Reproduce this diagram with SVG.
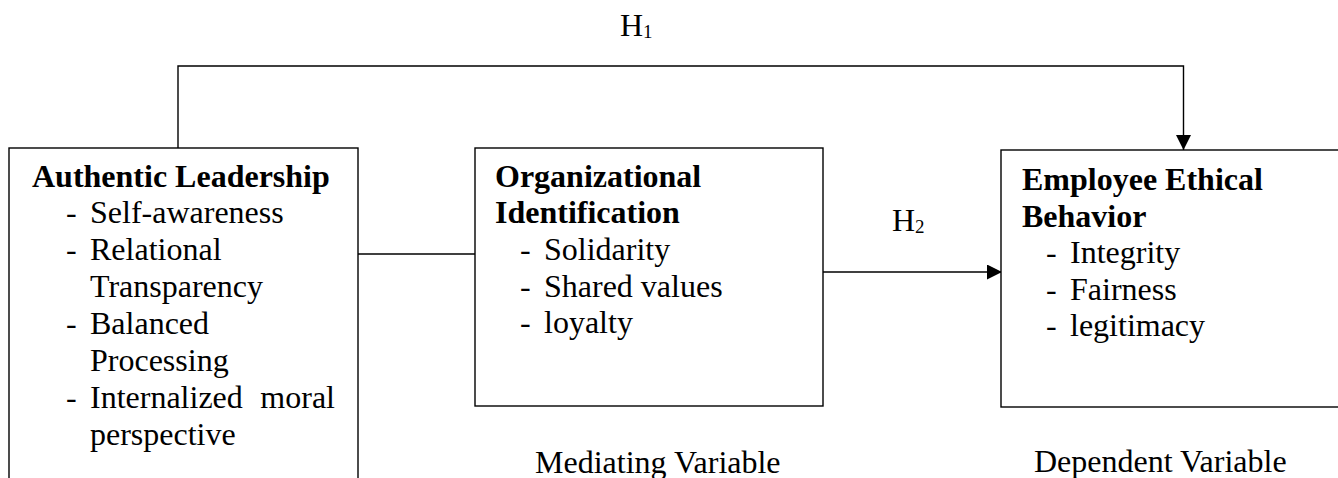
<svg xmlns="http://www.w3.org/2000/svg" width="1338" height="478" viewBox="0 0 1338 478">
<style>
.box{fill:#fff;stroke:#000;stroke-width:1.4}
.ln{fill:none;stroke:#000;stroke-width:1.4}
text{font-family:"Liberation Serif","Times New Roman",serif;font-size:32px;fill:#000}
.b{font-weight:bold}
.sub{font-size:19px}
</style>
<defs>
<marker id="ah" viewBox="0 0 15 15" refX="15" refY="7.5" markerWidth="15" markerHeight="15" markerUnits="userSpaceOnUse" orient="auto">
<path d="M0,0 L15,7.5 L0,15 Z" fill="#000"/>
</marker>
</defs>
<g id="connectors">
<path class="ln" d="M178,148 V66 H1183.5 V150" marker-end="url(#ah)"/>
<path class="ln" d="M358,254 H475"/>
<path class="ln" d="M823,272 H1002" marker-end="url(#ah)"/>
<text x="620" y="36">H<tspan class="sub" dy="2">1</tspan></text>
<text x="892" y="231">H<tspan class="sub" dy="2">2</tspan></text>
</g>
<g id="authentic-leadership">
<rect class="box" x="9" y="148" width="349" height="345"/>
<text class="b" x="32" y="187">Authentic Leadership</text>
<text x="66" y="223">-</text><text x="90" y="223">Self-awareness</text>
<text x="66" y="260">-</text><text x="90" y="260">Relational</text>
<text x="90" y="297">Transparency</text>
<text x="66" y="334">-</text><text x="90" y="334">Balanced</text>
<text x="90" y="371">Processing</text>
<text x="66" y="408">-</text><text x="90" y="408">Internalized</text><text x="335" y="408" text-anchor="end">moral</text>
<text x="90" y="445">perspective</text>
</g>
<g id="organizational-identification">
<rect class="box" x="475" y="148" width="348" height="258"/>
<text class="b" x="495" y="187">Organizational</text>
<text class="b" x="495" y="223">Identification</text>
<text x="520" y="260">-</text><text x="544" y="260">Solidarity</text>
<text x="520" y="297">-</text><text x="544" y="297">Shared values</text>
<text x="520" y="333">-</text><text x="544" y="333">loyalty</text>
<text x="535" y="473">Mediating Variable</text>
</g>
<g id="employee-ethical-behavior">
<rect class="box" x="1001" y="150" width="360" height="257"/>
<text class="b" x="1022" y="190">Employee Ethical</text>
<text class="b" x="1022" y="227">Behavior</text>
<text x="1046" y="263">-</text><text x="1070" y="263">Integrity</text>
<text x="1046" y="300">-</text><text x="1070" y="300">Fairness</text>
<text x="1046" y="336">-</text><text x="1070" y="336">legitimacy</text>
<text x="1034" y="472">Dependent Variable</text>
</g>
</svg>
